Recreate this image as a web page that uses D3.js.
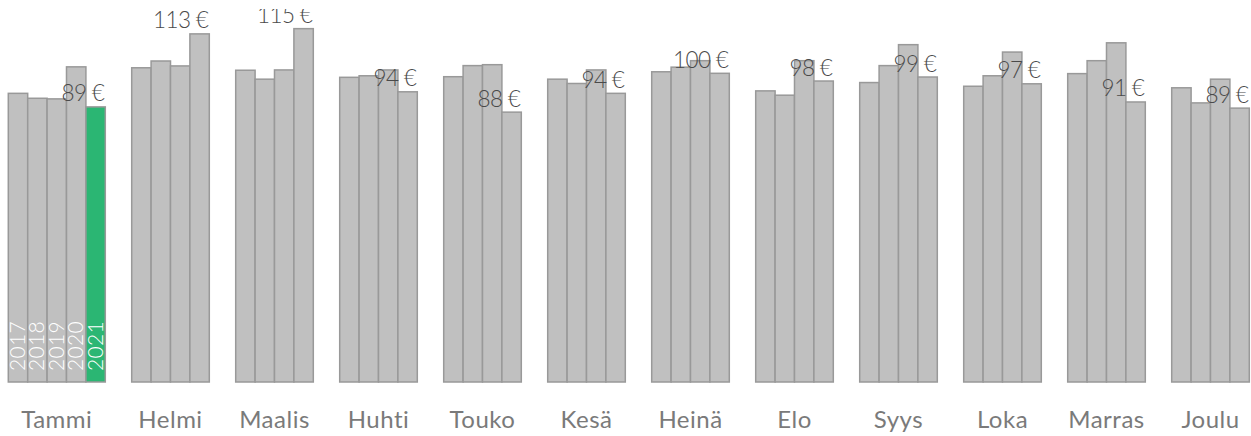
<!DOCTYPE html>
<html>
<head>
<meta charset="utf-8">
<script src="https://cdn.jsdelivr.net/npm/d3@7"></script>
<style>
  html, body { margin: 0; padding: 0; background: #fff; }
  svg { display: block; }
</style>
</head>
<body>
<script>
const months = ["Tammi", "Helmi", "Maalis", "Huhti", "Touko", "Kesä", "Heinä", "Elo", "Syys", "Loka", "Marras", "Joulu"];
const years = ["2017", "2018", "2019", "2020", "2021"];
const v2017 = [93.7, 102.0, 101.2, 98.9, 99.1, 98.3, 100.7, 94.5, 97.2, 96.0, 100.1, 95.5];
const v2018 = [92.1, 104.2, 98.3, 99.4, 102.7, 96.9, 102.2, 93.1, 102.7, 99.4, 104.3, 90.6];
const v2019 = [91.9, 102.6, 101.3, 101.3, 103.0, 101.3, 104.3, 104.3, 109.5, 107.1, 110.1, 98.3];
const v2020 = [102.3, 113.0, 114.7, 94.2, 87.6, 93.7, 100.2, 97.7, 99.0, 96.8, 90.9, 88.9];
const v2021 = [89.3, null, null, null, null, null, null, null, null, null, null, null];
const series = [v2017, v2018, v2019, v2020, v2021];

const W = 1251, H = 436;
const svg = d3.select("body").append("svg").attr("width", W).attr("height", H);

svg.append("defs").append("clipPath").attr("id", "labelClip")
  .append("rect").attr("x", 0).attr("y", 9).attr("width", W).attr("height", H - 9);

const gapUnits = 26.4 / 19.4;
let u = 0;
const groups = months.map((m, i) => {
  if (i > 0) u += gapUnits;
  const u0 = u;
  const bars = years.map((yr, k) => ({ month: m, year: yr, value: series[k][i], current: yr === "2021" }))
    .filter(d => d.value != null);
  bars.forEach(b => { b.u = u; u += 1; });
  return { month: m, index: i, bars, u0, u1: u };
});

const x = d3.scaleLinear().domain([0, u]).range([8.3, 1249.3]);
const y = d3.scaleLinear().domain([0, 124]).range([382, 0]);
const bw = x(1) - x(0);

const allBars = groups.flatMap(g => g.bars);

svg.append("g").selectAll("rect").data(allBars).join("rect")
  .attr("x", d => x(d.u))
  .attr("y", d => y(d.value))
  .attr("width", bw)
  .attr("height", d => y(0) - y(d.value))
  .attr("fill", d => d.current ? "#2bb673" : "#c0c0c0")
  .attr("stroke", "#999")
  .attr("stroke-width", 1.5);

// year labels in first group
svg.append("g").selectAll("text").data(groups[0].bars).join("text")
  .attr("transform", d => `translate(${x(d.u) + bw * 0.86},${y(0) - 11}) rotate(-90)`)
  .attr("fill", "#fff")
  .attr("font-family", "Lato, 'Open Sans', sans-serif")
  .attr("font-weight", 300)
  .attr("font-size", 21)
  .attr("letter-spacing", 0.3)
  .text(d => d.year);

// value labels
const fmt = d3.format(".0f");
svg.append("g").attr("clip-path", "url(#labelClip)")
  .selectAll("text").data(groups).join("text")
  .attr("x", g => x(g.u1) - 1)
  .attr("y", g => y(g.bars[g.bars.length - 1].value) - 5.5)
  .attr("text-anchor", "end")
  .attr("fill", "#4a4a4a")
  .attr("font-family", "Lato, 'Open Sans', sans-serif")
  .attr("font-weight", 300)
  .attr("font-size", 22.5)
  .attr("letter-spacing", -0.6)
  .text(g => fmt(g.bars[g.bars.length - 1].value) + " €");

// month labels
svg.append("g").selectAll("text").data(groups).join("text")
  .attr("x", g => (x(g.u0) + x(g.u1)) / 2)
  .attr("y", 428)
  .attr("text-anchor", "middle")
  .attr("fill", "#7a7a7a")
  .attr("font-family", "Lato, 'Open Sans', sans-serif")
  .attr("font-weight", 400)
  .attr("font-size", 24)
  .attr("letter-spacing", 0.5)
  .text(g => g.month);
</script>
</body>
</html>
